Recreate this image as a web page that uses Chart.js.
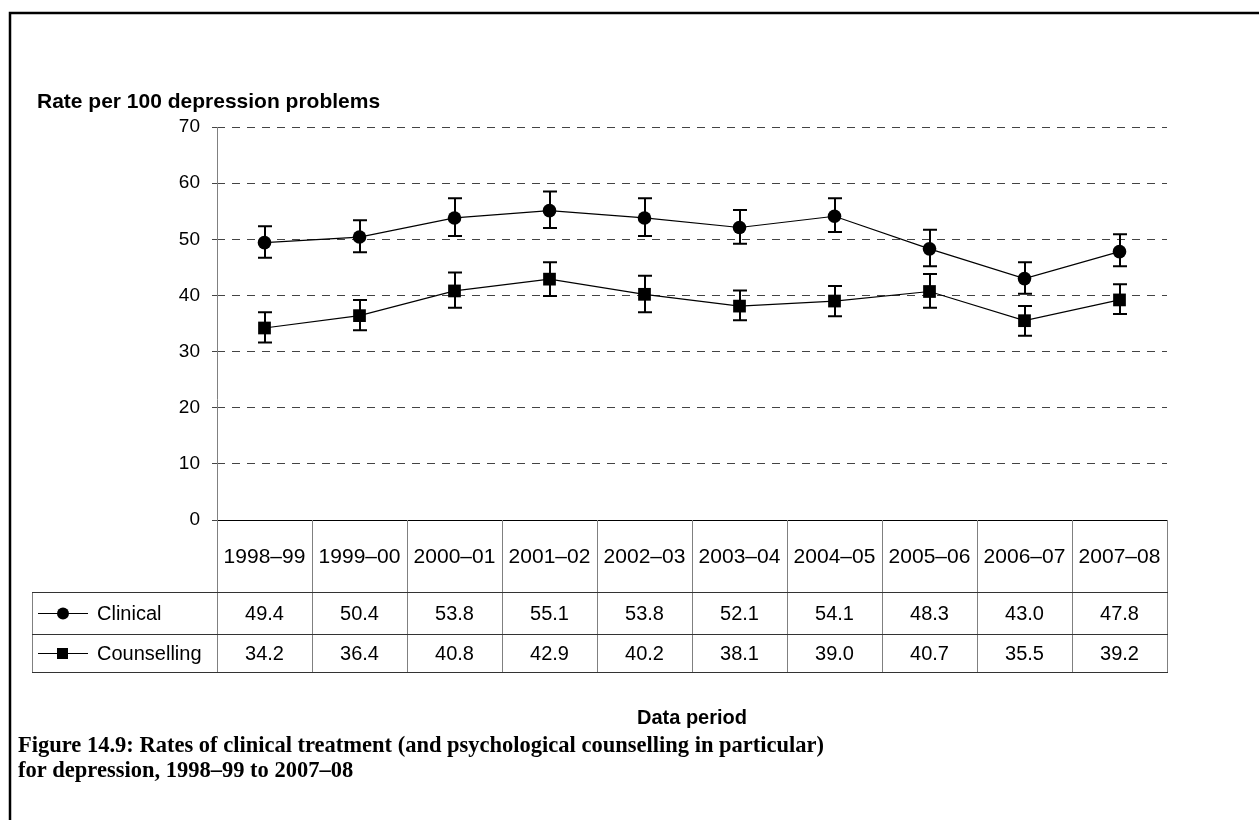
<!DOCTYPE html>
<html><head><meta charset="utf-8">
<script src="https://cdn.jsdelivr.net/npm/chart.js@4.4.0/dist/chart.umd.min.js"></script>
<style>html,body{margin:0;padding:0;background:#fff;overflow:hidden}#c{display:block}</style>
</head><body>
<canvas id="c" width="1259" height="820" style="width:1259px;height:820px"></canvas>
<script>
const categories = ['1998–99','1999–00','2000–01','2001–02','2002–03','2003–04','2004–05','2005–06','2006–07','2007–08'];
const seriesNames = ['Clinical','Counselling'];
const clinical = [49.4, 50.4, 53.8, 55.1, 53.8, 52.1, 54.1, 48.3, 43.0, 47.8];
const counselling = [34.2, 36.4, 40.8, 42.9, 40.2, 38.1, 39.0, 40.7, 35.5, 39.2];
const clinicalLow = [46.7, 47.7, 50.6, 52.0, 50.6, 49.2, 51.3, 45.2, 40.3, 45.2];
const clinicalHigh = [52.3, 53.4, 57.3, 58.5, 57.3, 55.2, 57.3, 51.7, 45.9, 50.9];
const counsellingLow = [31.6, 33.8, 37.8, 39.9, 37.0, 35.6, 36.3, 37.8, 32.8, 36.7];
const counsellingHigh = [37.0, 39.2, 44.1, 45.9, 43.5, 40.9, 41.7, 43.8, 38.1, 42.0];
const yTicks = [0, 10, 20, 30, 40, 50, 60, 70];
const yAxisTitle = 'Rate per 100 depression problems';
const xAxisTitle = 'Data period';
const figureTitle = ['Figure 14.9: Rates of clinical treatment (and psychological counselling in particular)', 'for depression, 1998–99 to 2007–08'];

const SANS = '"Liberation Sans", Arial, sans-serif';
const SERIF = '"Liberation Serif", "Times New Roman", serif';
const errLows = [clinicalLow, counsellingLow];
const errHighs = [clinicalHigh, counsellingHigh];
const seriesValues = [clinical, counselling];

const ROW_TOP = 592, ROW_MID = 634, ROW_BOT = 672, TABLE_LEFT = 32;

const customPlugin = {
  id: 'custom',
  beforeDraw(chart) {
    const c = chart.ctx;
    c.save(); c.fillStyle = '#fff'; c.fillRect(0, 0, chart.width, chart.height); c.restore();
  },
  beforeDatasetsDraw(chart) {
    const c = chart.ctx, ys = chart.scales.y;
    c.save();
    c.strokeStyle = '#000'; c.lineWidth = 2;
    chart.data.datasets.forEach((ds, di) => {
      const meta = chart.getDatasetMeta(di);
      meta.data.forEach((pt, i) => {
        const x = Math.round(pt.x);
        const yl = ys.getPixelForValue(errLows[di][i]);
        const yh = ys.getPixelForValue(errHighs[di][i]);
        c.beginPath();
        c.moveTo(x, yl); c.lineTo(x, yh);
        c.moveTo(x - 7, yl); c.lineTo(x + 7, yl);
        c.moveTo(x - 7, yh); c.lineTo(x + 7, yh);
        c.stroke();
      });
    });
    c.restore();
  },
  afterDraw(chart) {
    const c = chart.ctx, xs = chart.scales.x, ca = chart.chartArea;
    const n = categories.length;
    const colW = (xs.right - xs.left) / n;
    c.save();
    // frame
    c.strokeStyle = '#000'; c.lineWidth = 2.5;
    c.beginPath(); c.moveTo(10, 830); c.lineTo(10, 13); c.lineTo(1270, 13); c.stroke();
    // y-axis title
    c.fillStyle = '#000';
    c.font = 'bold 21px ' + SANS; c.textAlign = 'left'; c.textBaseline = 'middle';
    c.fillText(yAxisTitle, 37, 102);
    // table vertical lines
    c.lineWidth = 1; c.strokeStyle = '#808080';
    c.beginPath();
    c.moveTo(Math.round(xs.left) + 0.5, ca.top); c.lineTo(Math.round(xs.left) + 0.5, ROW_BOT);
    for (let i = 1; i <= n; i++) {
      const bx = Math.round(xs.left + i * colW) + 0.5;
      c.moveTo(bx, ca.bottom); c.lineTo(bx, ROW_BOT);
    }
    c.moveTo(TABLE_LEFT + 0.5, ROW_TOP); c.lineTo(TABLE_LEFT + 0.5, ROW_BOT);
    c.stroke();
    // horizontal lines
    c.strokeStyle = '#333';
    c.beginPath();
    [ROW_TOP, ROW_MID, ROW_BOT].forEach(y => { c.moveTo(TABLE_LEFT, y + 0.5); c.lineTo(Math.round(xs.right) + 1, y + 0.5); });
    c.stroke();
    // category labels
    c.fillStyle = '#000'; c.font = '21px ' + SANS; c.textAlign = 'center'; c.textBaseline = 'middle';
    categories.forEach((lab, i) => c.fillText(lab, xs.getPixelForValue(i), (ca.bottom + ROW_TOP) / 2 + 1));
    // values
    c.font = '20px ' + SANS;
    const rowCenters = [(ROW_TOP + ROW_MID) / 2 + 1, (ROW_MID + ROW_BOT) / 2 + 1];
    seriesValues.forEach((vals, si) => {
      vals.forEach((v, i) => c.fillText(v.toFixed(1), xs.getPixelForValue(i), rowCenters[si]));
    });
    // legend entries
    c.textAlign = 'left';
    seriesNames.forEach((name, si) => {
      const y = Math.round(rowCenters[si]) - 0.5;
      c.strokeStyle = '#000'; c.lineWidth = 1.2;
      c.beginPath(); c.moveTo(38, y); c.lineTo(88, y); c.stroke();
      c.fillStyle = '#000';
      if (si === 0) { c.beginPath(); c.arc(63, y, 6, 0, Math.PI * 2); c.fill(); }
      else { c.fillRect(57, y - 5.5, 11, 11); }
      c.fillText(name, 97, y + 1);
    });
    // x-axis title
    c.font = 'bold 20px ' + SANS; c.textAlign = 'center';
    c.fillText(xAxisTitle, (xs.left + xs.right) / 2, 718);
    // figure title
    c.font = 'bold 22.5px ' + SERIF; c.textAlign = 'left';
    c.fillText(figureTitle[0], 18, 746);
    c.fillText(figureTitle[1], 18, 771);
    c.restore();
  }
};

new Chart(document.getElementById('c'), {
  type: 'line',
  data: {
    labels: categories,
    datasets: [
      { label: seriesNames[0], data: clinical, borderColor: '#000', borderWidth: 1.2, tension: 0,
        pointStyle: 'circle', pointRadius: 6.8, pointBackgroundColor: '#000', pointBorderColor: '#000', pointBorderWidth: 0 },
      { label: seriesNames[1], data: counselling, borderColor: '#000', borderWidth: 1.2, tension: 0,
        pointStyle: 'rect', pointRadius: 9, pointBackgroundColor: '#000', pointBorderColor: '#000', pointBorderWidth: 0 }
    ]
  },
  options: {
    responsive: false, animation: false, devicePixelRatio: 1,
    layout: { padding: { left: 0, right: 92, top: 127, bottom: 300 } },
    plugins: { legend: { display: false }, tooltip: { enabled: false }, title: { display: false } },
    scales: {
      x: { type: 'category', offset: true, grid: { display: false }, border: { display: false },
           ticks: { display: false }, afterFit(s) { s.height = 0; } },
      y: { min: 0, max: 70,
           afterFit(s) { s.width = 217; },
           afterBuildTicks(s) { s.ticks = yTicks.map(v => ({ value: v })); },
           ticks: { color: '#000', font: { family: SANS, size: 19 }, padding: 12 },
           grid: { color: ctx => (ctx.tick && ctx.tick.value === 0) ? '#000' : '#444', lineWidth: 1,
                   drawTicks: true, tickLength: 5, tickColor: '#444' },
           border: { display: false, dash: ctx => (ctx.tick && ctx.tick.value === 0) ? [] : [8, 7] } }
    }
  },
  plugins: [customPlugin]
});
</script>
</body></html>
